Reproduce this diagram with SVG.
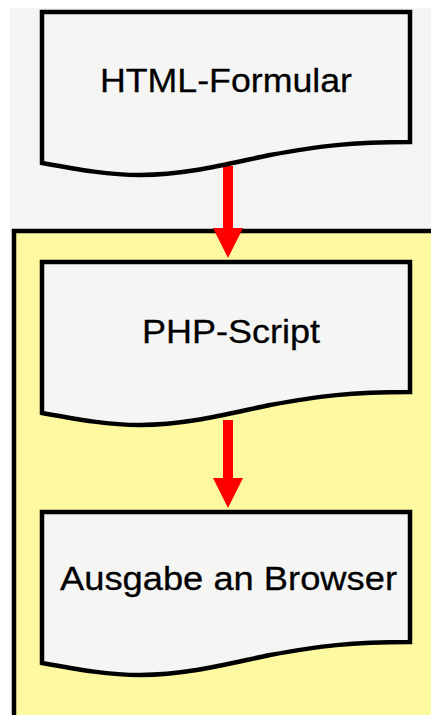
<svg xmlns="http://www.w3.org/2000/svg" width="431" height="715" viewBox="0 0 431 715">
  <defs>
    <style>
      .doc { fill: #f5f6f4; stroke: #000; stroke-width: 4.5; stroke-linejoin: miter; }
      .label { font-family: "Liberation Sans", Arial, sans-serif; font-size: 34px; fill: #000; stroke: #000; stroke-width: 0.3; }
      .shaft { stroke: #ff0000; stroke-width: 10; fill: none; }
      .head { fill: #ff0000; }
    </style>
    <!-- flowchart "document" symbol with wavy bottom edge -->
    <path id="docShape" d="M42,12 H410 V142 C350,142 320,146 270,155 C235,162 190,175 140,175 C110,175 80,170 42,163 Z"/>
  </defs>

  <rect x="0" y="0" width="431" height="715" fill="#ffffff"/>
  <!-- upper backdrop -->
  <rect x="10" y="8" width="421" height="224" fill="#f4f5f3"/>
  <!-- lower container -->
  <rect x="14" y="231" width="430" height="500" fill="#fcf9a0" stroke="#000" stroke-width="4.5"/>

  <g id="connectors">
    <g id="edge-html-php">
      <line class="shaft" x1="228" y1="166" x2="228" y2="232"/>
      <polygon class="head" points="213,228 243,228 228,258"/>
    </g>
    <g id="edge-php-ausgabe">
      <line class="shaft" x1="228" y1="420" x2="228" y2="482"/>
      <polygon class="head" points="213,478 243,478 228,508"/>
    </g>
  </g>

  <g id="node-html">
    <use href="#docShape" class="doc"/>
    <text class="label" x="100" y="92" textLength="252" lengthAdjust="spacingAndGlyphs">HTML-Formular</text>
  </g>

  <g id="node-php">
    <use href="#docShape" class="doc" transform="translate(0,250)"/>
    <text class="label" x="142" y="343" textLength="178" lengthAdjust="spacingAndGlyphs">PHP-Script</text>
  </g>

  <g id="node-ausgabe">
    <use href="#docShape" class="doc" transform="translate(0,500)"/>
    <text class="label" x="60" y="590" textLength="337" lengthAdjust="spacingAndGlyphs">Ausgabe an Browser</text>
  </g>
</svg>
